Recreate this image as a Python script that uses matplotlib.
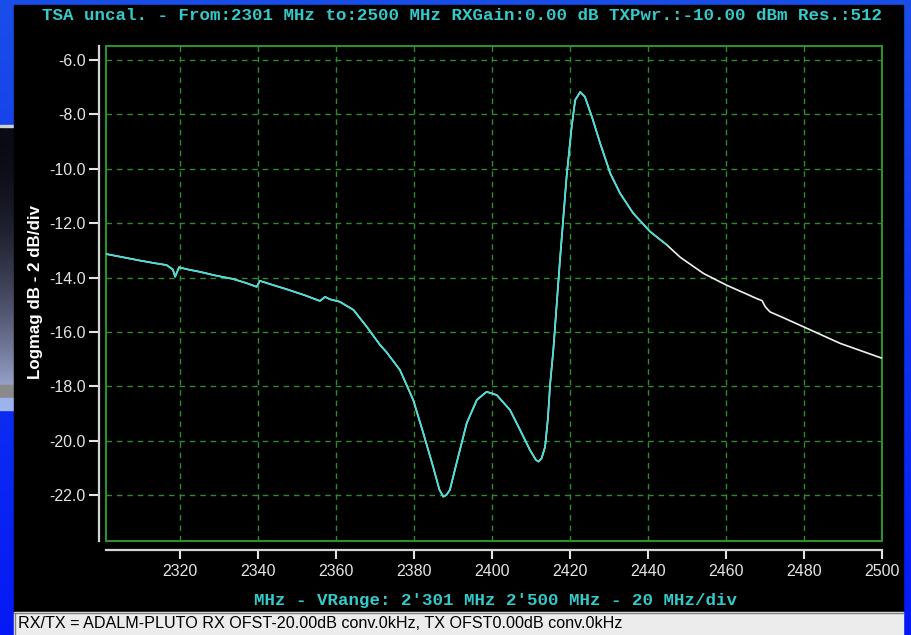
import numpy as np
import matplotlib
matplotlib.use("Agg")
import matplotlib.pyplot as plt
from matplotlib.patches import Rectangle

# ---------------- data ----------------
freq_mhz = [2301, 2305, 2310, 2314, 2316.6, 2318.2, 2318.8, 2319.8, 2322, 2325.2,
            2329, 2333.6, 2337, 2339.7, 2340.5, 2344, 2347.4, 2352, 2355.9, 2357.2,
            2358.5, 2361, 2364.5, 2367.9, 2371.3, 2373, 2376.4, 2379.8, 2382.4, 2384.9,
            2386.5, 2387.5, 2388.3, 2389.2, 2390.9, 2393.5, 2396.1, 2398.6, 2401.2, 2404.6,
            2407.2, 2409.7, 2411.2, 2411.9, 2412.7, 2413.6, 2414.3, 2414.9, 2415.7, 2417.4,
            2419.1, 2420.4, 2421.3, 2422.6, 2423.8, 2425.6, 2427.7, 2430.3, 2432.8, 2436.2,
            2440.5, 2444.8, 2448.2, 2454.2, 2460.1, 2467.8, 2469.2, 2470, 2471.2, 2475,
            2479.8, 2489.2, 2500]
logmag_db = [-13.13, -13.24, -13.38, -13.48, -13.54, -13.70, -13.97, -13.62, -13.70, -13.79,
             -13.92, -14.05, -14.20, -14.34, -14.12, -14.28, -14.43, -14.65, -14.86, -14.71,
             -14.80, -14.89, -15.19, -15.81, -16.48, -16.75, -17.40, -18.50, -19.73, -20.96,
             -21.80, -22.06, -22.00, -21.81, -20.83, -19.36, -18.50, -18.20, -18.32, -18.87,
             -19.61, -20.34, -20.70, -20.77, -20.65, -20.22, -19.20, -17.89, -16.67, -13.36,
             -10.29, -8.45, -7.47, -7.17, -7.35, -8.09, -9.06, -10.17, -10.90, -11.64,
             -12.31, -12.80, -13.25, -13.85, -14.28, -14.77, -14.85, -15.07, -15.26, -15.50,
             -15.81, -16.42, -16.97]
cyan_until_mhz = 2446

x_ticks = [2320, 2340, 2360, 2380, 2400, 2420, 2440, 2460, 2480, 2500]
y_ticks = [-6, -8, -10, -12, -14, -16, -18, -20, -22]
x_range = (2301, 2500)
y_range = (-23.69, -5.47)

title_txt = "TSA uncal. - From:2301 MHz to:2500 MHz RXGain:0.00 dB TXPwr.:-10.00 dBm Res.:512"
xlabel_txt = "MHz - VRange: 2'301 MHz 2'500 MHz - 20 MHz/div"
ylabel_txt = "Logmag dB - 2 dB/div"
status_txt = "RX/TX = ADALM-PLUTO RX OFST-20.00dB conv.0kHz, TX OFST0.00dB conv.0kHz"

# ---------------- figure ----------------
W, H = 911, 635
fig = plt.figure(figsize=(W / 100, H / 100), dpi=100)

# background (pixel coordinate axes)
bg = fig.add_axes([0, 0, 1, 1], zorder=0)
bg.axis("off")
grad = np.linspace(0, 1, 256).reshape(-1, 1)
top_c = np.array([26, 78, 232]) / 255
bot_c = np.array([5, 25, 245]) / 255
img = top_c[None, None, :] * (1 - grad[:, :, None]) + bot_c[None, None, :] * grad[:, :, None]
bg.imshow(img, extent=(0, W, H, 0), aspect="auto")

# left fragment of another window
frag = np.linspace(0, 1, 200).reshape(-1, 1)
fc0 = np.array([10, 10, 20]) / 255
fc1 = np.array([150, 160, 200]) / 255
fimg = fc0[None, None, :] * (1 - frag[:, :, None] ** 2) + fc1[None, None, :] * (frag[:, :, None] ** 2)
bg.imshow(fimg, extent=(0, 14, 385, 127), aspect="auto")
bg.add_patch(Rectangle((0, 125), 14, 2, color="#d0d0d0"))
bg.add_patch(Rectangle((0, 385), 14, 12, color="#8a8a8a"))
bg.add_patch(Rectangle((0, 398), 14, 12, color="#9cb4ee"))
bg.set_xlim(0, W)
bg.set_ylim(H, 0)

# black window + status bar
bg.add_patch(Rectangle((14, 5), 889, 607, color="black"))
bg.add_patch(Rectangle((14, 612), 889, 23, color="#ececec"))
bg.plot([14, 903], [613, 613], color="#808080", lw=1)
bg.plot([15, 15], [613, 635], color="#808080", lw=1)

# ---------------- main axes ----------------
left_px, right_px, top_px, bot_px = 105.7, 882.3, 45.7, 541.0
ax = fig.add_axes([left_px / W, 1 - bot_px / H, (right_px - left_px) / W, (bot_px - top_px) / H],
                  zorder=2)
ax.set_facecolor("black")
ax.set_xlim(*x_range)
ax.set_ylim(*y_range)

ax.grid(True, color="#2d8a2d", linestyle=(0, (4, 3.5)), linewidth=1.0)
ax.set_axisbelow(True)

for s in ("top", "right"):
    ax.spines[s].set_visible(False)
for s in ("left", "bottom"):
    ax.spines[s].set_color("#d4d4d4")
    ax.spines[s].set_linewidth(1.6)
ax.spines["left"].set_position(("outward", 4.6))
ax.spines["bottom"].set_position(("outward", 6.7))

ax.add_patch(Rectangle((0, 0), 1, 1, transform=ax.transAxes, fill=False,
                       edgecolor="#2f8f2f", linewidth=1.5, zorder=3, clip_on=False))

ax.set_xticks(x_ticks)
ax.set_xticklabels([str(v) for v in x_ticks])
ax.set_yticks(y_ticks)
ax.set_yticklabels([f"{v:.1f}" for v in y_ticks])
ax.tick_params(axis="x", colors="#e4e4e4", length=6.5, width=1.5, pad=3.5,
               labelsize=11.5)
ax.tick_params(axis="y", colors="#e4e4e4", length=7.2, width=1.5, pad=2.5,
               labelsize=11.5)
for lab in ax.get_xticklabels() + ax.get_yticklabels():
    lab.set_family("Liberation Sans")

fx = np.array(freq_mhz)
fy = np.array(logmag_db)
ax.plot(fx, fy, color="#f0f0f0", lw=1.2, zorder=4)
m = fx <= cyan_until_mhz
ax.plot(fx[m], fy[m], color="#3fe0d8", lw=1.2, zorder=5)

# ---------------- texts ----------------
mono = dict(family="Liberation Mono", weight="bold", color="#34caca")
fig.text(462 / W, 1 - 16 / H, title_txt, ha="center", va="center", fontsize=12.6, **mono)
fig.text(495 / W, 1 - 600 / H, xlabel_txt, ha="center", va="center", fontsize=12.6, **mono)
fig.text(36 / W, 1 - 292 / H, ylabel_txt, rotation=90, ha="center", va="center",
         fontsize=12.2, weight="bold", color="white", family="Liberation Sans")
fig.text(18 / W, 1 - 624 / H, status_txt, ha="left", va="center", fontsize=11.6,
         color="black", family="Liberation Sans")

fig.savefig("out.png", dpi=100, facecolor=fig.get_facecolor())
